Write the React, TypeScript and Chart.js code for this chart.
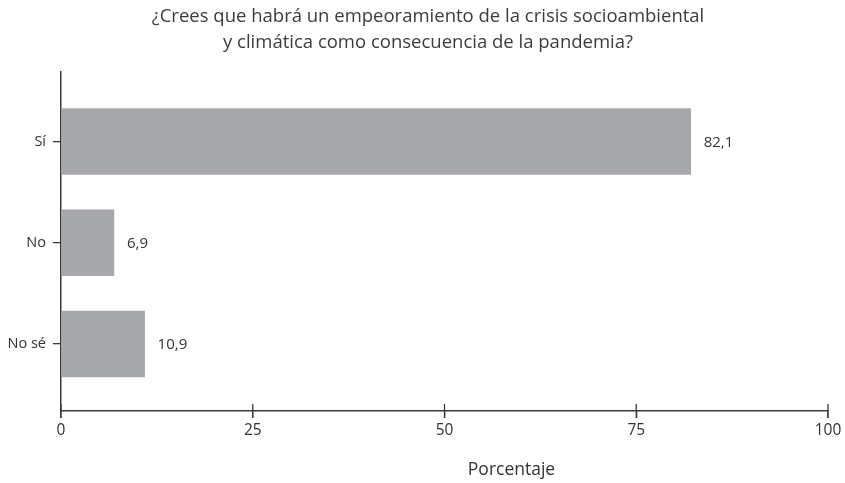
import React, { useEffect, useRef } from 'react';
import { Chart, registerables } from 'chart.js';
Chart.register(...registerables);

const categories = ['Sí', 'No', 'No sé'];
const values = [82.1, 6.9, 10.9];
const xTickStep = 25;
const xMin = 0;
const xMax = 100;
const titleLines = [
  '¿Crees que habrá un empeoramiento de la crisis socioambiental',
  'y climática como consecuencia de la pandemia?',
];
const axisTitle = 'Porcentaje';

const BAR = '#a7a8ab';
const INK = '#333333';
const TITLE_INK = '#3c3c3c';
const AXIS = '#3a3a3a';
const FONT = '"Open Sans", sans-serif';

export default function App() {
  const ref = useRef<HTMLCanvasElement>(null);
  useEffect(() => {
    const overlay = {
      id: 'overlay',
      afterDraw(chart: any) {
        const ctx = chart.ctx;
        const { left, right, bottom } = chart.chartArea;
        ctx.save();
        ctx.strokeStyle = AXIS;
        ctx.lineWidth = 1.3;
        const xs = chart.scales.x;
        xs.ticks.forEach((t: any) => {
          const px = xs.getPixelForValue(t.value);
          ctx.beginPath();
          ctx.moveTo(px, bottom - 7);
          ctx.lineTo(px, bottom + 7);
          ctx.stroke();
        });
        ctx.fillStyle = INK;
        ctx.font = `15px ${FONT}`;
        ctx.textAlign = 'left';
        ctx.textBaseline = 'middle';
        const meta = chart.getDatasetMeta(0);
        meta.data.forEach((el: any, i: number) => {
          const txt = values[i].toFixed(1).replace('.', ',');
          ctx.fillText(txt, el.x + 13, el.y + 1);
        });
        ctx.fillStyle = TITLE_INK;
        ctx.font = `18.5px ${FONT}`;
        ctx.textAlign = 'center';
        ctx.fillText(titleLines[0], 428, 17);
        ctx.fillText(titleLines[1], 428, 43);
        ctx.fillStyle = INK;
        ctx.font = `17.5px ${FONT}`;
        ctx.fillText(axisTitle, (left + right) / 2 + 67, 470);
        ctx.restore();
      },
    };

    const chart = new Chart(ref.current as HTMLCanvasElement, {
      type: 'bar',
      data: {
        datasets: [
          {
            data: values.map((v, i) => ({ x: v, y: i })),
            backgroundColor: BAR,
            borderWidth: 0,
            barThickness: 66,
          },
        ],
      },
      options: {
        indexAxis: 'y',
        animation: false,
        responsive: false,
        layout: { padding: { top: 72, right: 17, left: 0, bottom: 0 } },
        plugins: { legend: { display: false }, tooltip: { enabled: false }, title: { display: false } },
        scales: {
          x: {
            type: 'linear',
            min: xMin,
            max: xMax,
            offset: false,
            afterFit: (s: any) => {
              s.height = 72;
            },
            ticks: { stepSize: xTickStep, color: INK, font: { family: FONT, size: 15.5 }, padding: 3, maxRotation: 0 },
            grid: { display: true, offset: false, drawOnChartArea: false, drawTicks: true, tickLength: 7, color: AXIS, lineWidth: 1.3 },
            border: { display: true, color: AXIS, width: 1.5 },
          },
          y: {
            type: 'linear',
            reverse: true,
            min: -0.686,
            max: 2.662,
            offset: false,
            afterFit: (s: any) => {
              s.width = 61;
            },
            afterBuildTicks: (s: any) => {
              s.ticks = categories.map((_, i) => ({ value: i }));
            },
            ticks: {
              color: INK,
              font: { family: FONT, size: 14.5 },
              padding: 7,
              callback: (v: any) => categories[v as number] ?? '',
            },
            grid: { display: true, offset: false, drawOnChartArea: false, drawTicks: true, tickLength: 8, color: AXIS, lineWidth: 1.3 },
            border: { display: true, color: AXIS, width: 1.5 },
          },
        },
      },
      plugins: [overlay],
    } as any);
    return () => chart.destroy();
  }, []);

  return (
    <div style={{ position: 'absolute', left: 0, top: 0, width: 845, height: 483, background: '#fff' }}>
      <canvas ref={ref} width={845} height={483} />
    </div>
  );
}
